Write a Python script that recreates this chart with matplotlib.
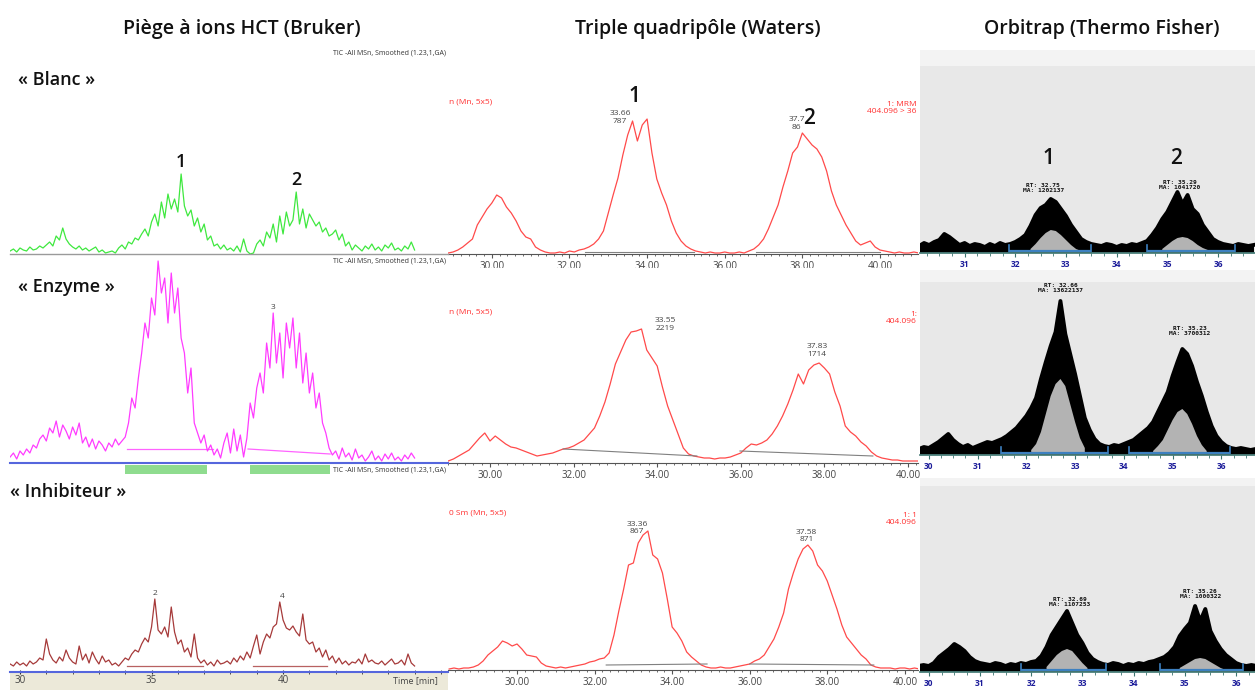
import numpy as np
import matplotlib
matplotlib.use("Agg")
import matplotlib.pyplot as plt
from matplotlib.patches import Rectangle
from matplotlib.ticker import MultipleLocator, FormatStrFormatter

W, H = 1255, 693
plt.rcParams['font.family'] = ['Open Sans', 'DejaVu Sans']

# ---------------- data ----------------
column_titles = ["Piège à ions HCT (Bruker)", "Triple quadripôle (Waters)", "Orbitrap (Thermo Fisher)"]
sample_labels = ["« Blanc »", "« Enzyme »", "« Inhibiteur »"]

# Bruker ion trap, TIC (signal height in px above baseline), 29.625 min, step 0.125 min
bruker_t0, bruker_dt = 29.625, 0.125
bruker_blanc = [3, 5, 2, 6, 4, 3, 7, 4, 5, 8, 6,
                9, 12, 8, 18, 14, 26, 15, 10,
                7, 5, 8, 4, 6, 3, 5, 7, 2, 4, 1, 2, 3, 1,
                6, 9, 5, 12, 10, 16, 14,
                20, 25, 18, 32, 40, 28, 52, 36,
                60, 45, 55, 42,
                80,
                48, 38, 44, 28, 36, 22, 30,
                14, 18, 8, 10, 5, 9, 4, 6,
                3, 8, 2, 15, 3, 0, 1,
                10, 14, 8, 22, 16, 30, 12, 38, 20, 42, 28, 34,
                62,
                30, 45, 26, 40, 34, 28, 32, 22, 26, 18, 20, 24, 14, 20,
                8, 12, 4, 9, 6, 3, 8, 5, 10, 4, 7, 3, 9, 6, 11, 4, 6, 3, 8, 5, 12, 4]
bruker_enzyme = [6, 10, 4, 12, 8, 14, 10, 18, 15, 24,
                 28, 22, 35, 30, 42, 26, 38, 32, 24, 36, 28, 40,
                 20, 26, 16, 24, 14, 22, 18, 12, 20, 16, 24, 18, 22, 26,
                 40, 65, 55, 85,
                 110, 140, 125, 165, 148,
                 202,
                 170, 185, 140, 190, 150, 175, 125,
                 110, 70, 95, 40,
                 30, 20, 28, 12, 18,
                 8, 14, 5, 20, 30, 10, 34, 12, 28,
                 6, 25, 60, 45, 75,
                 90, 70, 120, 95, 150,
                 100, 130, 85, 140, 115, 145, 95, 130, 80,
                 110, 70, 90, 55, 70, 40,
                 30, 15, 8,
                 12, 4, 15, 6, 10, 3, 14, 5, 8, 2, 6, 12, 3, 7, 2, 9, 4, 10, 3, 6, 2, 8, 4, 10, 5]
bruker_inhib = [8, 6, 10, 7, 9, 6, 11, 8, 10, 14, 12,
                33,
                18, 12, 9, 15, 11, 22, 14, 10, 8, 26, 12, 18, 9, 20, 13, 8, 16, 10, 12, 7, 9,
                6, 10, 14, 12, 18, 22, 20,
                28, 34, 30, 45,
                73,
                42, 38, 45, 35,
                65,
                40, 28, 32, 20, 24, 15,
                38,
                14, 9, 12, 7, 10, 6, 12, 8, 9, 11,
                8, 14, 10, 16, 12, 20, 14,
                26, 37,
                18, 30, 38, 34, 45,
                48, 70,
                52, 44, 42, 46,
                40, 36, 58,
                32, 28, 30, 20, 24, 15, 22,
                12, 16, 9, 14, 8, 11, 7, 10, 9, 13, 8, 18, 10, 12, 9, 8, 11, 7, 10, 13, 8, 9, 12, 7, 18, 9, 6]
bruker_peaks = [[("1", 36.1), ("2", 40.5)], [("3", 39.62)], [("2", 35.13), ("4", 39.96)]]
bruker_peak_tops = [[80, 62], [150], [73, 70]]
enzyme_windows = [(33.99, 37.11), (38.75, 41.79)]
bruker_baselines = [[], [((34.07, 37.34), (14, 14)), ((38.67, 41.79), (14, 9))],
                    [((34.07, 36.96), (6, 6)), ((38.86, 41.67), (6, 6))]]

# Waters triple quad, MRM 404.096, step 0.125 min
waters_t0 = [28.875, 29.0, 28.25]
waters_dt = 0.125
waters_blanc = [0, 1, 3, 6, 10, 14, 28, 36, 44,
                50, 58, 55, 46, 40, 32, 22, 16,
                14, 6, 3, 1,
                0, 0, 1, 0, 2, 1, 3, 4,
                6, 9, 14, 22,
                40, 58, 75, 98,
                118, 132, 112, 128, 134, 100,
                74, 60, 48, 32, 20, 12,
                7, 4, 2, 1,
                0, 1, 0, 0, 1, 0, 0, 1, 0, 2, 4,
                8, 14, 24, 36, 48,
                66, 82, 100, 106, 120, 114,
                108, 104, 96, 82, 62, 48,
                38, 28, 20, 12, 8, 10,
                12, 6, 3, 2,
                1, 0, 1, 0, 0, 1, 0]
waters_enzyme = [1, 3, 6, 9, 12, 18, 24, 29, 21, 26, 22, 18, 15,
                 14, 12, 10, 8, 6, 7, 8, 9, 11, 13, 14, 16, 19,
                 22, 28, 34, 46, 60, 78, 98, 110, 122, 130, 131, 133,
                 112, 104, 96, 75, 56, 42, 28, 14, 8, 6,
                 5, 4, 4, 3, 4, 4, 5, 7, 9, 14, 18, 17, 19, 22,
                 28, 36, 46, 58, 72, 88, 78, 92, 97, 99, 94, 88,
                 70, 56, 36, 30, 26, 20, 16, 10, 6, 4, 3,
                 2, 2, 1, 1, 1, 1]
waters_inhib = [0, 1, 0, 1, 1, 2, 4, 8, 14, 18, 22,
                28, 26, 23, 25, 20, 14, 13, 12, 6,
                3, 2, 1, 2, 1, 2, 3, 4, 5, 7, 8, 10,
                11, 16, 34, 58, 80, 104, 106, 126, 134,
                138, 114, 110, 96, 70, 42, 36, 28, 17, 12, 8, 4,
                2, 1, 1, 2, 1, 1, 2, 3, 4, 5, 8, 10, 14,
                22, 30, 42, 56, 80, 96, 110, 120, 124, 118, 104, 98,
                88, 74, 60, 44, 32, 26, 20, 14, 10, 4, 2, 1,
                1, 1, 0, 1, 1, 0, 1, 0]
waters_xlims = [(28.87, 40.98), (28.995, 40.24), (28.22, 40.34)]
waters_baselines = [[((32.4, 35.2), (1, 1)), ((36.8, 40.0), (1, 1))],
                    [((31.75, 34.95), (13, 6)), ((35.98, 39.16), (11, 6))],
                    [((32.3, 34.9), (4, 5)), ((36.0, 39.2), (5, 4))]]
waters_annots = [[("33.66\n787", 33.3, 128), ("37.7\n86", 37.85, 122)],
                 [("33.55\n2219", 34.2, 130), ("37.83\n1714", 37.82, 104)],
                 [("33.36\n867", 33.1, 134), ("37.58\n871", 37.47, 126)]]
waters_left_tags = ["n (Mn, 5x5)", "n (Mn, 5x5)", "0 Sm (Mn, 5x5)"]
waters_right_tags = ["1: MRM\n404.096 > 36", "1:\n404.096", "1: 1\n404.096"]

# Orbitrap, upper envelope of XIC and integrated area, step 0.1 min
orbi_t0 = [30.1, 29.8, 29.8]
orbi_dt = 0.1
orbi_blanc = [6, 9, 7, 10, 12, 18, 15, 11,
              7, 9, 6, 8, 7, 5, 8, 6, 9, 7, 8, 10, 13,
              17, 26, 37, 44, 47, 53, 50, 43, 36, 27, 20, 13, 10, 8,
              7, 6, 8, 7, 5, 7, 6, 8, 7, 9, 11,
              17, 24, 33, 40, 50, 60, 48, 57, 43, 38, 27, 20, 13, 10, 8,
              7, 6, 8, 7, 6, 7]
orbi_blanc_area = [0] * 22 + [3, 8, 14, 19, 22, 21, 17, 12, 7, 3, 1] + [0] * 15 + \
                  [3, 7, 11, 14, 15, 14, 11, 7, 4, 2] + [0] * 9
orbi_enzyme = [5, 7, 6, 9, 12, 16, 20, 14, 10,
               7, 9, 6, 8, 10, 12, 11, 13, 15, 18, 22, 26, 32, 38,
               46, 56, 75, 92, 108, 122, 153, 120, 100, 80, 58, 36, 24, 15, 10,
               8, 7, 9, 8, 10, 12, 14, 18, 22, 26, 32, 42, 52,
               62, 78, 92, 105, 100, 88, 72, 58, 42, 28, 18, 12,
               8, 6, 5, 6, 5, 4, 5]
orbi_enzyme_area = [0] * 23 + [4, 10, 22, 40, 58, 70, 75, 68, 50, 32, 16, 6] + [0] * 13 + \
                   [3, 8, 14, 24, 34, 42, 45, 40, 30, 18, 9, 3] + [0] * 10
orbi_inhib = [5, 6, 5, 8, 14, 18, 22, 27, 24, 20, 14, 10, 8, 7,
              6, 8, 7, 5, 7, 6, 8, 7, 9, 10,
              15, 24, 36, 44, 52, 60, 48, 36, 28, 18, 12, 9, 7,
              6, 8, 7, 5, 7, 6, 8, 7, 9, 10, 12, 14, 18,
              24, 35, 42, 48, 65, 50, 62, 40, 30, 22, 16, 12, 8,
              6, 5, 6, 5]
orbi_inhib_area = [0] * 25 + [4, 10, 16, 20, 22, 20, 14, 8, 3] + [0] * 17 + \
                  [3, 6, 9, 12, 13, 12, 9, 6, 3, 1] + [0] * 6
orbi_xlims = [(30.12, 36.73), (29.82, 36.69), (29.83, 36.37)]
orbi_ticks = [[31, 32, 33, 34, 35, 36], [30, 31, 32, 33, 34, 35, 36], [30, 31, 32, 33, 34, 35, 36]]
orbi_windows = [[(31.88, 33.5), (34.59, 36.33)], [(31.49, 33.67), (34.1, 36.18)],
                [(31.8, 33.46), (34.52, 36.14)]]
orbi_annots = [[("RT: 32.75\nMA: 1202137", 32.55, 59), ("RT: 35.29\nMA: 1041720", 35.25, 62)],
               [("RT: 32.66\nMA: 13622137", 32.7, 161), ("RT: 35.23\nMA: 3700312", 35.35, 118)],
               [("RT: 32.69\nMA: 1107253", 32.75, 64), ("RT: 35.26\nMA: 1000322", 35.3, 72)]]

# ---------------- figure ----------------
fig = plt.figure(figsize=(W / 100, H / 100), dpi=100)
fig.patch.set_facecolor('white')


def px_axes(x0, y0, x1, y1, z=1):
    ax = fig.add_axes([x0 / W, 1 - y1 / H, (x1 - x0) / W, (y1 - y0) / H])
    ax.set_zorder(z)
    return ax


def ftext(x, y, s, **kw):
    return fig.text(x / W, 1 - y / H, s, **kw)


def bare(ax, keep_bottom=True):
    for side in ['top', 'right', 'left']:
        ax.spines[side].set_visible(False)
    ax.spines['bottom'].set_visible(keep_bottom)
    ax.set_yticks([])


# column titles
for title, xc in zip(column_titles, [242, 698, 1102]):
    ftext(xc, 29, title, ha='center', va='center', fontsize=14, fontweight='semibold', color='#111111')

# ---- Bruker column ----
bg = px_axes(10, 48, 448, 672, z=0)
bg.set_facecolor('#fdfdf1')
bg.axis('off')
strip = px_axes(10, 672, 448, 690, z=0)
strip.set_facecolor('#ece9d9')
strip.set_xticks([]); strip.set_yticks([])
for s in strip.spines.values():
    s.set_visible(False)

bruker_boxes = [(10, 48, 448, 254), (10, 256, 448, 463), (10, 465, 448, 672)]
bruker_series = [bruker_blanc, bruker_enzyme, bruker_inhib]
bruker_colors = ['#3fe83f', '#ff3cff', '#a63a3a']
bruker_axis_colors = ['#9a9a9a', '#5566dd', '#5566dd']
for k, (box, vals) in enumerate(zip(bruker_boxes, bruker_series)):
    ax = px_axes(*box, z=2)
    ax.patch.set_alpha(0)
    h = box[3] - box[1]
    t = bruker_t0 + bruker_dt * np.arange(len(vals))
    ax.plot(t, vals, color=bruker_colors[k], lw=0.9)
    for (ta, tb), (ya, yb) in bruker_baselines[k]:
        ax.plot([ta, tb], [ya, yb], color=bruker_colors[k], lw=0.9, alpha=0.8)
    for (lab, tp), top in zip(bruker_peaks[k], bruker_peak_tops[k]):
        if k == 0:
            ax.text(tp, top + 3, lab, ha='center', va='bottom', fontsize=13, fontweight='semibold',
                    color='#111111')
        else:
            ax.text(tp, top + 2, lab, ha='center', va='bottom', fontsize=6, color='#444444')
    ax.set_xlim(29.62, 46.27)
    ax.set_ylim(0, h)
    bare(ax)
    ax.spines['bottom'].set_color(bruker_axis_colors[k])
    ax.spines['bottom'].set_linewidth(1.5 if k else 1.0)
    if k == 2:
        ax.xaxis.set_major_locator(MultipleLocator(5))
        ax.xaxis.set_minor_locator(MultipleLocator(1))
        ax.set_xticks([30, 35, 40])
        ax.set_xticklabels(['30', '35', '40'])
        ax.tick_params(axis='x', which='both', direction='inout', length=3, color='#333333',
                       labelsize=7, labelcolor='#444444', pad=1)
        ax.text(45.9, -4, 'Time [min]', ha='right', va='top', fontsize=6.5, color='#444444')
    else:
        ax.set_xticks([])
    ftext(446, box[1] + 5, 'TIC -All MSn, Smoothed (1.23,1,GA)', ha='right', va='center',
          fontsize=5, color='#333333', zorder=5)
    ftext(18 if k < 2 else 10, [80, 287, 492][k], sample_labels[k], ha='left', va='center',
          fontsize=13, fontweight='semibold', color='#111111')
    if k == 2:
        for ta, tb in enzyme_windows:
            ax.add_patch(Rectangle((ta, h - 9), tb - ta, 9, color='#8fdc8f', lw=0, zorder=1))

# ---- Waters column ----
waters_boxes = [(448, 48, 918, 254), (448, 268, 918, 463), (448, 478, 918, 670)]
waters_series = [waters_blanc, waters_enzyme, waters_inhib]
for k, (box, vals) in enumerate(zip(waters_boxes, waters_series)):
    ax = px_axes(*box, z=1)
    h = box[3] - box[1]
    t = waters_t0[k] + waters_dt * np.arange(len(vals))
    ax.plot(t, vals, color='#ff4a4a', lw=0.9)
    for (ta, tb), (ya, yb) in waters_baselines[k]:
        ax.plot([ta, tb], [ya, yb], color='#808080', lw=0.8)
    for lab, ta, ya in waters_annots[k]:
        ax.text(ta, ya, lab, ha='center', va='bottom', fontsize=6, color='#444444', linespacing=1.1)
    ax.set_xlim(*waters_xlims[k])
    ax.set_ylim(-1, h - 1)
    bare(ax)
    ax.spines['bottom'].set_color('#555555')
    ax.xaxis.set_major_locator(MultipleLocator(2))
    ax.xaxis.set_minor_locator(MultipleLocator(0.2))
    ax.xaxis.set_major_formatter(FormatStrFormatter('%.2f'))
    ax.tick_params(axis='x', which='major', length=3, color='#555555', labelsize=7,
                   labelcolor='#444444', pad=2)
    ax.tick_params(axis='x', which='minor', length=1.5, color='#555555')
    tag_y = [102, 312, 513][k]
    ftext(449, tag_y, waters_left_tags[k], ha='left', va='center', fontsize=6, color='#ff3030')
    ftext(917, tag_y + 6, waters_right_tags[k], ha='right', va='center', fontsize=6,
          color='#ff3030', linespacing=1.1)

ftext(634, 97, '1', ha='center', va='center', fontsize=15, fontweight='semibold', color='#111111', zorder=6)
ftext(809, 118, '2', ha='center', va='center', fontsize=15, fontweight='semibold', color='#111111', zorder=6)

# ---- Orbitrap column ----
obg = px_axes(920, 48, 1255, 693, z=0)
obg.set_facecolor('#f3f3f3')
obg.axis('off')
orbi_boxes = [(920, 50, 1255, 253), (920, 270, 1255, 455), (920, 478, 1255, 672)]
orbi_strips = [16, 12, 8]
orbi_series = [(orbi_blanc, orbi_blanc_area), (orbi_enzyme, orbi_enzyme_area),
               (orbi_inhib, orbi_inhib_area)]
for k, (box, (upper, area)) in enumerate(zip(orbi_boxes, orbi_series)):
    ax = px_axes(*box, z=1)
    ax.set_facecolor('#e8e8e8')
    h = box[3] - box[1]
    t = orbi_t0[k] + orbi_dt * np.arange(len(upper))
    ax.axhspan(h - 1 - orbi_strips[k], h, color='#f3f3f3', lw=0)
    ax.fill_between(t, 0, upper, color='black', lw=0)
    ax.plot(t, upper, color='black', lw=2.8)
    ax.fill_between(t, 0, area, where=np.array(area) > 0, color='#b3b3b3', lw=0)
    for ta, tb in orbi_windows[k]:
        ax.plot([ta, tb], [1, 1], color='#3d80c0', lw=1.6, solid_capstyle='butt')
        ax.plot([ta, ta], [0, 7], color='#3d80c0', lw=1.2)
        ax.plot([tb, tb], [0, 7], color='#3d80c0', lw=1.2)
    for lab, ta, ya in orbi_annots[k]:
        ax.text(ta, ya, lab, ha='center', va='bottom', fontsize=4.5, fontweight='bold',
                color='#111111', family='DejaVu Sans Mono', linespacing=1.0)
    ax.set_xlim(*orbi_xlims[k])
    ax.set_ylim(-1, h - 1)
    bare(ax)
    ax.spines['bottom'].set_color('#3c7570')
    ax.spines['bottom'].set_linewidth(1.2)
    ax.set_xticks(orbi_ticks[k])
    ax.xaxis.set_minor_locator(MultipleLocator(0.25))
    ax.tick_params(axis='x', which='major', length=3, color='#3c7570', labelsize=6,
                   labelcolor='#1c1c9a', pad=2)
    ax.tick_params(axis='x', which='minor', length=2, color='#3c7570')
    for lab in ax.get_xticklabels():
        lab.set_fontweight('bold')

ftext(1048, 158, '1', ha='center', va='center', fontsize=15, fontweight='semibold', color='#111111', zorder=6)
ftext(1176, 158, '2', ha='center', va='center', fontsize=15, fontweight='semibold', color='#111111', zorder=6)

fig.savefig('out.png', dpi=100)
